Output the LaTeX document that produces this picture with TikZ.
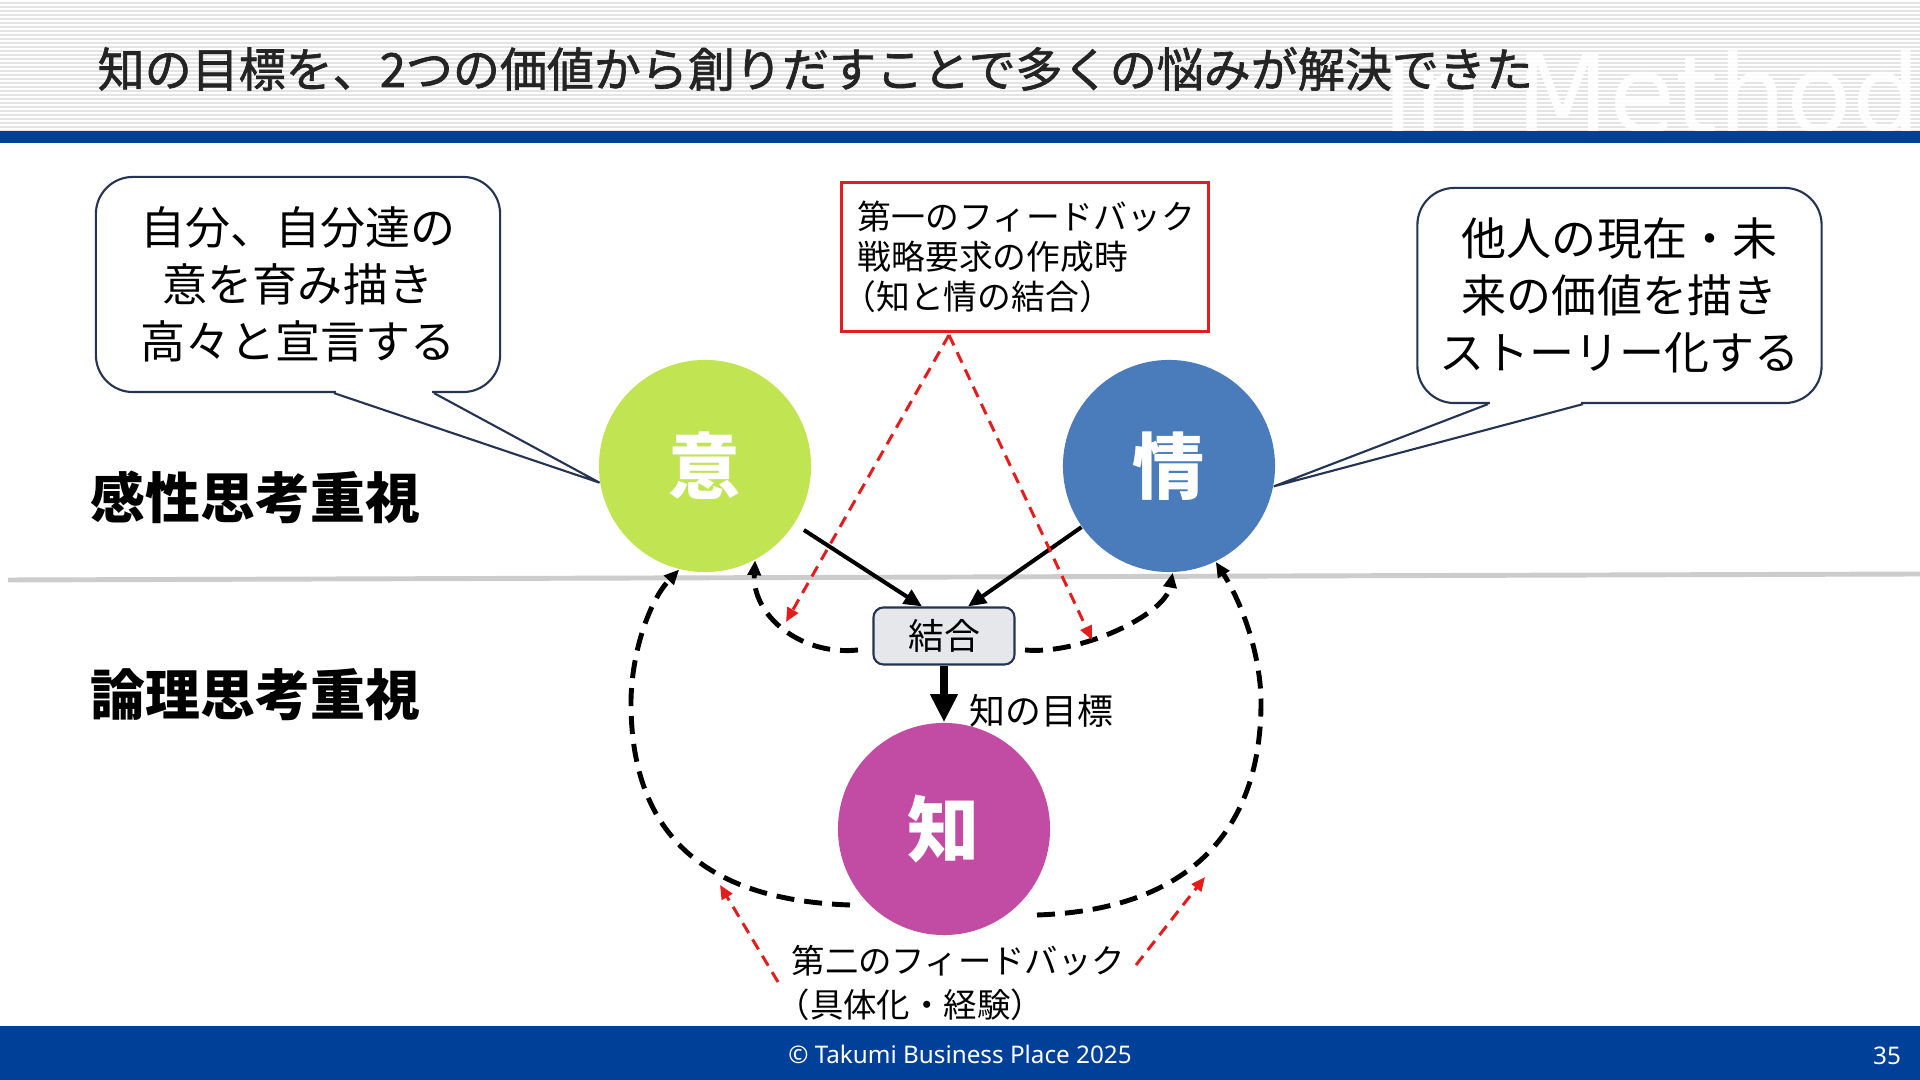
\documentclass[tikz,border=0pt]{standalone}
\usepackage{fontspec}
\setmainfont{Noto Sans}
\newfontfamily\jp{Noto Sans CJK JP}
\newfontfamily\jptitle{Noto Sans CJK JP}[FakeBold=1.4]
\newfontfamily\wmfont{DejaVu Sans}
\usetikzlibrary{arrows.meta,calc}
\newcommand\myfs[2]{\fontsize{#1}{#2}\selectfont}
\definecolor{bandblue}{RGB}{0,64,152}
\definecolor{stripegray}{RGB}{228,228,228}
\definecolor{titlegray}{RGB}{36,36,36}
\definecolor{cnavy}{RGB}{36,52,82}
\definecolor{limec}{RGB}{192,228,82}
\definecolor{bluec}{RGB}{74,123,187}
\definecolor{magc}{RGB}{194,76,164}
\definecolor{myred}{RGB}{228,28,28}
\definecolor{divgray}{RGB}{204,204,204}
\definecolor{boxfill}{RGB}{229,231,235}
\begin{document}
\begin{tikzpicture}[x=0.01cm,y=-0.01cm,
  callout/.style={draw=cnavy, line width=0.6pt, rounded corners=0.37cm, fill=white,
    minimum width=4.04cm, minimum height=2.15cm, align=center, inner sep=0,
    font=\jp\myfs{12.8pt}{16.2pt}},
  cline/.style={draw=cnavy, line width=0.6pt},
  circ/.style={circle, minimum size=2.12cm, inner sep=0, text=white,
    font=\jp\bfseries\myfs{20.5pt}{24pt}},
  blk/.style={-{Triangle[length=0.18cm,width=0.16cm]}, line width=1.15pt},
  bigarr/.style={-{Triangle[length=0.28cm,width=0.26cm]}, line width=2.3pt},
  dsh/.style={line width=1.4pt, dash pattern=on 0.18cm off 0.1cm,
    -{Triangle[length=0.15cm,width=0.13cm]}},
  reddsh/.style={draw=myred, line width=0.85pt, dash pattern=on 0.115cm off 0.075cm,
    -{Triangle[length=0.14cm,width=0.12cm]}},
  redbox/.style={draw=myred, line width=0.85pt, minimum width=3.66cm, minimum height=1.48cm,
    text width=3.34cm, align=left, inner xsep=0.16cm, inner ysep=0,
    font=\jp\myfs{9.6pt}{11.3pt}},
  kbox/.style={draw=cnavy, fill=boxfill, line width=0.6pt, rounded corners=0.1cm,
    minimum width=1.41cm, minimum height=0.57cm, inner sep=0, font=\jp\myfs{10.2pt}{12pt}},
  sidelabel/.style={anchor=west, inner sep=0, font=\jp\bfseries\myfs{15.6pt}{18pt}},
  plainlabel/.style={inner sep=0, font=\jp\myfs{9.6pt}{12.2pt}}
]
\useasboundingbox (0,0) rectangle (1920,1080);
\fill[white] (0,0) rectangle (1920,1080);
% header
\fill[stripegray] (0,0) rectangle (1920,131);
\foreach \yy in {1,5,...,129} \draw[white, line width=0.5pt] (0,\yy) -- (1920,\yy);
\begin{scope}
  \clip (0,0) rectangle (1920,131);
  \node[anchor=base west, inner sep=0, text=white, opacity=0.9,
        font=\wmfont\myfs{30.6pt}{31pt}] (wm) at (1382,133) {In Method};
\end{scope}
\fill[bandblue] (0,131) rectangle (1920,143);
\node[anchor=west, inner sep=0, text=titlegray, font=\jptitle\myfs{13.37pt}{16pt}] (title) at (97,69)
  {知の目標を、2つの価値から創りだすことで多くの悩みが解決できた};
% footer
\fill[bandblue] (0,1026) rectangle (1920,1080);
\node[text=white, inner sep=0, font=\myfs{6.9pt}{8pt}] (copy) at (960,1054) {© Takumi Business Place 2025};
\node[text=white, inner sep=0, font=\myfs{6.9pt}{8pt}] (pnum) at (1887,1056) {35};
% divider
\draw[divgray, line width=1.4pt] (8,580) -- (1920,574);
% side labels
\node[sidelabel] (kansei) at (90,497) {感性思考重視};
\node[sidelabel] (ronri) at (90,695) {論理思考重視};
% circles
\node[circ, fill=limec] (yi) at (705,466) {意};
\node[circ, fill=bluec] (qing) at (1169,466) {情};
\node[circ, fill=magc] (chi) at (944,829) {知};
% callouts
\node[callout] (cl) at (298,284.5) {自分、自分達の\\意を育み描き\\高々と宣言する};
\fill[white] ($(cl.south)+(38,-3)$) rectangle ($(cl.south)+(134,3)$);
\draw[cline] ($(cl.south)+(36,0)$) -- (yi.-171) -- ($(cl.south)+(136,0)$);
\node[callout] (cr) at (1619.5,295.5) {他人の現在・未\\来の価値を描き\\ストーリー化する};
\fill[white] ($(cr.south)+(-129.5,-3)$) rectangle ($(cr.south)+(-38.5,3)$);
\draw[cline] ($(cr.south)+(-131.5,0)$) -- (qing.-11) -- ($(cr.south)+(-36.5,0)$);
% red box
\node[redbox] (fb1) at (1025,257) {第一のフィードバック\\戦略要求の作成時\\\hspace*{-0.45em}（知と情の結合）};
% combine box
\node[kbox] (ketsu) at (944,636) {結合};
\coordinate (kin1) at ($(ketsu.north)+(-22,0)$);
\coordinate (kin2) at ($(ketsu.north)+(24,0)$);
\draw[blk, shorten <=0.11cm] (yi) -- (kin1);
\draw[blk] (qing) -- (kin2);
\draw[bigarr] (ketsu) -- (chi);
\node[plainlabel, anchor=west, font=\jp\myfs{10.2pt}{12pt}] (goal) at (969,711) {知の目標};
% dashed black loops
\coordinate (kL) at (858,650);
\coordinate (kR) at (1025,650);
\draw[dsh] (kL) .. controls (800,656) and (752,615) .. (yi.-62);
\draw[dsh] (kR) .. controls (1080,655) and (1165,615) .. (qing.-88);
\coordinate (oL) at (850,905);
\coordinate (oR) at (1037,915);
\draw[dsh] (oL) .. controls (700,900) and (630,830) .. (631,700) .. controls (632,650) and (650,600) .. (yi.-104);
\draw[dsh] (oR) .. controls (1190,910) and (1262,830) .. (1261,700) .. controls (1260,650) and (1240,600) .. (qing.-64);
% red dashed arrows
\coordinate (apex) at (949,335);
\coordinate (rL) at (786,622);
\coordinate (rR) at (1092,640);
\draw[reddsh] (apex) -- (rL);
\draw[reddsh] (apex) -- (rR);
\coordinate (bL0) at (778,982);
\coordinate (bL1) at (720,885);
\coordinate (bR0) at (1136,965);
\coordinate (bR1) at (1205,877);
\draw[reddsh] (bL0) -- (bL1);
\draw[reddsh] (bR0) -- (bR1);
\node[plainlabel, anchor=west, align=left, font=\jp\myfs{9.5pt}{12.4pt}] (fb2) at (791,983)
  {第二のフィードバック\\\hspace*{-0.45em}（具体化・経験）};
\end{tikzpicture}
\end{document}
